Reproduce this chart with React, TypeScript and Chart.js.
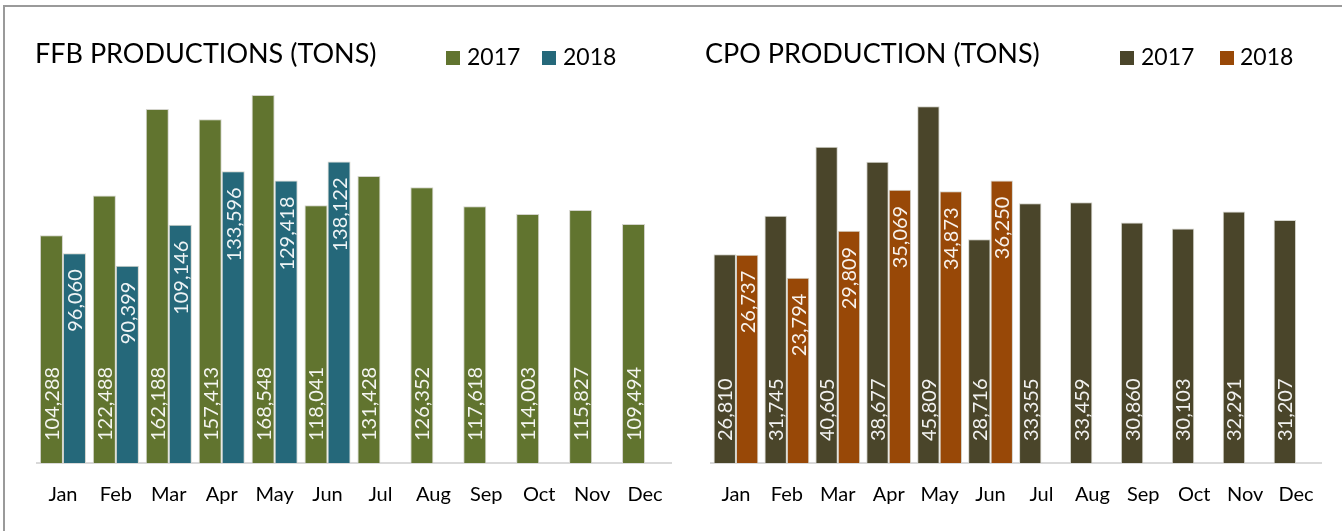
import React, { useEffect, useRef } from "react";
import { Chart, registerables } from "chart.js";

Chart.register(...registerables);

// ---------- data ----------
const months = ["Jan", "Feb", "Mar", "Apr", "May", "Jun", "Jul", "Aug", "Sep", "Oct", "Nov", "Dec"];
const seriesNames = ["2017", "2018"];

const ffbTitle = "FFB PRODUCTIONS (TONS)";
const ffb2017 = [104288, 122488, 162188, 157413, 168548, 118041, 131428, 126352, 117618, 114003, 115827, 109494];
const ffb2018 = [96060, 90399, 109146, 133596, 129418, 138122, null, null, null, null, null, null];

const cpoTitle = "CPO PRODUCTION (TONS)";
const cpo2017 = [26810, 31745, 40605, 38677, 45809, 28716, 33355, 33459, 30860, 30103, 32291, 31207];
const cpo2018 = [26737, 23794, 29809, 35069, 34873, 36250, null, null, null, null, null, null];

const FONT = "Lato, 'Open Sans', sans-serif";

const valueLabelPlugin = {
  id: "valueLabels",
  afterDatasetsDraw(chart: any) {
    const ctx = chart.ctx;
    ctx.save();
    ctx.font = `20px ${FONT}`;
    ctx.fillStyle = "rgba(255,255,255,0.93)";
    ctx.textBaseline = "middle";
    chart.data.datasets.forEach((ds: any, di: number) => {
      const meta = chart.getDatasetMeta(di);
      meta.data.forEach((el: any, i: number) => {
        const v = ds.data[i];
        if (v == null) return;
        const { x, y, base } = el.getProps(["x", "y", "base"], true);
        const text = Number(v).toLocaleString("en-US");
        ctx.save();
        if (di === 0) {
          ctx.translate(x, base - 22);
          ctx.textAlign = "left";
        } else {
          ctx.translate(x, y + 16);
          ctx.textAlign = "right";
        }
        ctx.rotate(-Math.PI / 2);
        ctx.fillText(text, 0, 1);
        ctx.restore();
      });
    });
    ctx.restore();
  },
};

type PanelProps = {
  left: number;
  width: number;
  d2017: (number | null)[];
  d2018: (number | null)[];
  colors: string[];
  catPct: number;
  padLeft: number;
  padRight: number;
  padTop: number;
  yMax: number;
};

function BarPanel(p: PanelProps) {
  const ref = useRef<HTMLCanvasElement>(null);
  useEffect(() => {
    const chart = new Chart(ref.current as HTMLCanvasElement, {
      type: "bar",
      data: {
        labels: months,
        datasets: [
          {
            label: seriesNames[0],
            data: p.d2017,
            backgroundColor: p.colors[0],
            borderColor: "#d4d4cc",
            borderWidth: 1,
            categoryPercentage: p.catPct,
            barPercentage: 1,
          },
          {
            label: seriesNames[1],
            data: p.d2018,
            backgroundColor: p.colors[1],
            borderColor: "#d4d4cc",
            borderWidth: 1,
            categoryPercentage: p.catPct,
            barPercentage: 1,
          },
        ] as any,
      },
      options: {
        responsive: false,
        animation: false,
        layout: { padding: { left: p.padLeft, right: p.padRight, top: p.padTop, bottom: 0 } },
        plugins: {
          legend: { display: false },
          title: { display: false },
          tooltip: { enabled: false },
        },
        scales: {
          x: {
            grid: { display: true, drawOnChartArea: false, drawTicks: false },
            border: { display: true, color: "#d9d9d9", width: 2 },
            ticks: {
              color: "#000",
              font: { family: FONT, size: 20 },
              padding: 20,
              maxRotation: 0,
              autoSkip: false,
            },
            afterFit: (s: any) => {
              s.height = 68;
            },
          },
          y: { display: false, min: 0, max: p.yMax },
        },
      } as any,
      plugins: [valueLabelPlugin],
    });
    return () => chart.destroy();
  }, []);
  return (
    <canvas
      ref={ref}
      width={p.width}
      height={531}
      style={{ position: "absolute", left: p.left, top: 0, width: p.width, height: 531 }}
    />
  );
}

function Header(props: { title: string; titleX: number; sq: number[]; tx: number[]; colors: string[] }) {
  return (
    <>
      <div
        style={{
          position: "absolute",
          left: props.titleX,
          top: 37,
          font: `27px ${FONT}`,
          lineHeight: "32px",
          whiteSpace: "nowrap",
          color: "#000",
        }}
      >
        {props.title}
      </div>
      {seriesNames.map((name, i) => (
        <React.Fragment key={name}>
          <div
            style={{
              position: "absolute",
              left: props.sq[i],
              top: 51,
              width: 14,
              height: 14,
              background: props.colors[i],
            }}
          />
          <div
            style={{
              position: "absolute",
              left: props.tx[i],
              top: 42,
              font: `23px ${FONT}`,
              lineHeight: "28px",
              whiteSpace: "nowrap",
              color: "#000",
            }}
          >
            {name}
          </div>
        </React.Fragment>
      ))}
    </>
  );
}

export default function App() {
  const ffbColors = ["#61742f", "#25687a"];
  const cpoColors = ["#4a452a", "#984807"];
  return (
    <div
      style={{
        position: "absolute",
        left: 0,
        top: 0,
        width: 1342,
        height: 531,
        background: "#fff",
        overflow: "hidden",
      }}
    >
      <div
        style={{
          position: "absolute",
          left: 3,
          top: 5,
          width: 1339,
          height: 526,
          boxSizing: "border-box",
          borderTop: "2px solid #9a9a9a",
          borderLeft: "2px solid #9a9a9a",
        }}
      />
      <BarPanel
        left={0}
        width={690}
        d2017={ffb2017}
        d2018={ffb2018}
        colors={ffbColors}
        catPct={0.87}
        padLeft={36.5}
        padRight={18.5}
        padTop={70}
        yMax={180000}
      />
      <BarPanel
        left={690}
        width={652}
        d2017={cpo2017}
        d2018={cpo2018}
        colors={cpoColors}
        catPct={0.88}
        padLeft={20.5}
        padRight={20.5}
        padTop={73.5}
        yMax={50000}
      />
      <Header title={ffbTitle} titleX={35} sq={[446, 542]} tx={[467, 563]} colors={ffbColors} />
      <Header title={cpoTitle} titleX={705} sq={[1120, 1220]} tx={[1141, 1240]} colors={cpoColors} />
    </div>
  );
}
